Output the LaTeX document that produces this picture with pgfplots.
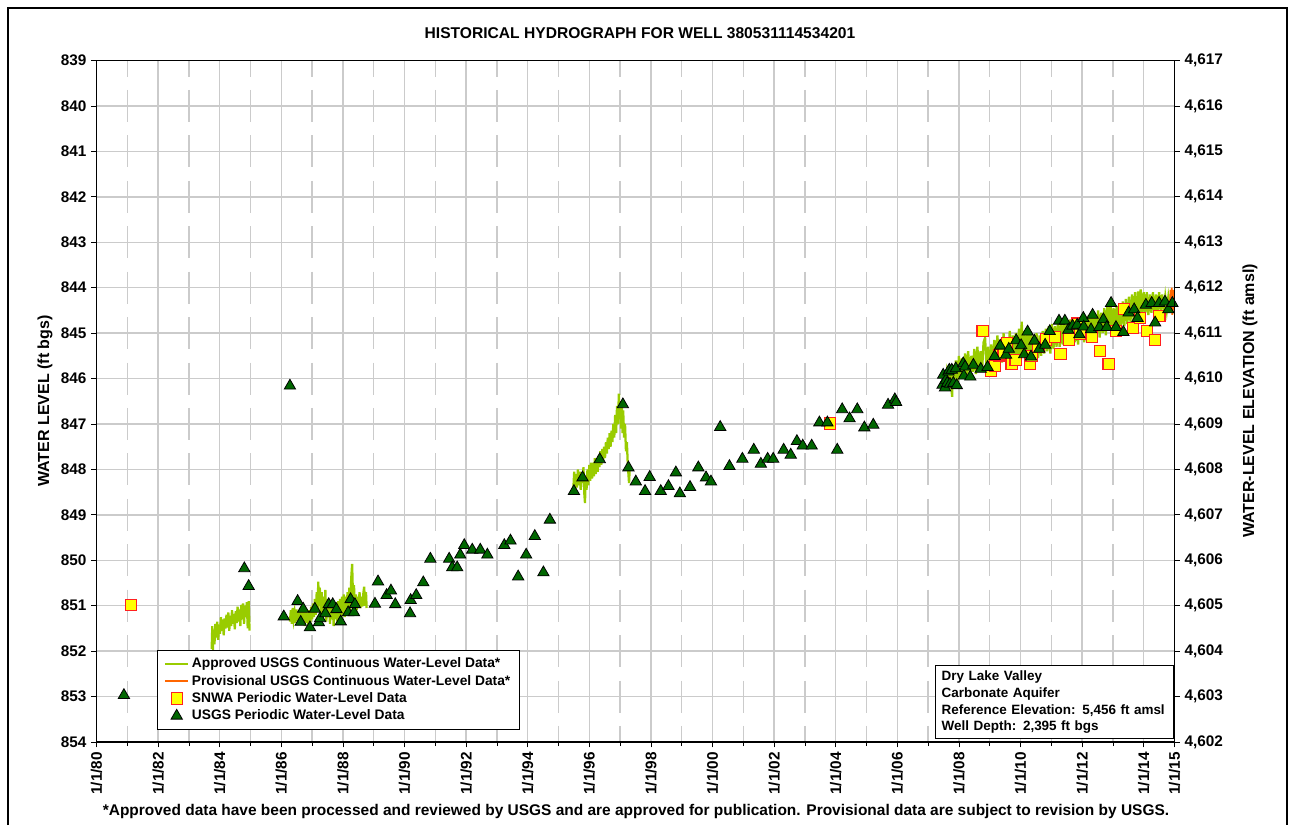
\documentclass[border=0pt]{standalone}
\usepackage{fontspec}
\setmainfont{Liberation Sans}
\usepackage{pgfplots}
\usepackage{pgfplotstable}
\pgfplotsset{compat=1.18}
\definecolor{appr}{HTML}{99CC00}
\definecolor{provc}{HTML}{FF6600}
\definecolor{tri}{HTML}{006600}
\definecolor{sqf}{HTML}{FFFF00}
\definecolor{sqe}{HTML}{FF2020}
\definecolor{grd}{HTML}{CBCBCB}
\begin{document}
\pgfplotstableread{
x y
1983.74 851.95
1983.76 851.45
1983.78 851.98
1983.80 851.55
1983.83 851.85
1983.86 851.40
1983.89 851.70
1983.92 851.35
1983.95 851.75
1983.98 851.42
1984.01 851.62
1984.04 851.25
1984.07 851.55
1984.10 851.30
1984.13 851.65
1984.16 851.28
1984.19 851.50
1984.22 851.20
1984.25 851.48
1984.28 851.15
1984.31 851.55
1984.34 851.22
1984.37 851.45
1984.40 851.10
1984.43 851.40
1984.46 851.18
1984.49 851.52
1984.52 851.12
1984.55 851.38
1984.58 851.02
1984.61 851.35
1984.64 851.08
1984.67 851.45
1984.70 850.98
1984.73 851.30
1984.76 850.95
1984.79 851.40
1984.82 851.00
1984.85 851.25
1984.88 850.92
1984.91 851.50
1984.94 850.90
1984.97 851.55
}\segA
\pgfplotstableread{
x y
1986.28 851.35
1986.31 851.10
1986.34 851.40
1986.37 851.05
1986.40 851.30
1986.43 851.15
1986.46 851.38
1986.49 851.08
1986.52 851.32
1986.55 851.12
1986.58 851.42
1986.61 851.05
1986.64 851.30
1986.67 851.00
1986.70 851.35
1986.73 851.10
1986.76 851.45
1986.79 851.05
1986.82 851.38
1986.85 851.15
1986.88 851.48
1986.91 851.10
1986.94 851.40
1986.97 851.02
1987.00 851.30
1987.03 850.95
1987.06 851.25
1987.09 850.85
1987.12 851.20
1987.15 850.70
1987.18 851.10
1987.20 850.47
1987.22 851.00
1987.25 850.60
1987.28 851.25
1987.31 850.70
1987.34 851.30
1987.37 850.80
1987.40 851.20
1987.43 850.65
1987.46 851.35
1987.49 850.85
1987.52 851.25
1987.55 850.90
1987.58 851.40
1987.61 850.95
1987.64 851.30
1987.67 851.00
1987.70 851.45
1987.73 850.95
1987.76 851.30
1987.79 851.05
1987.82 851.35
1987.85 850.90
1987.88 851.28
1987.91 850.85
1987.94 851.30
1987.97 850.80
1988.00 851.20
1988.03 850.75
1988.06 851.25
1988.09 850.80
1988.12 851.15
1988.15 850.70
1988.18 851.20
1988.21 850.60
1988.24 851.10
1988.27 850.40
1988.30 850.08
1988.33 850.90
1988.36 850.55
1988.39 851.05
1988.42 850.75
1988.45 851.10
1988.48 850.80
1988.51 851.00
1988.54 850.70
1988.57 851.05
1988.60 850.80
1988.63 851.02
1988.66 850.75
1988.69 850.58
1988.72 851.00
1988.75 850.70
1988.77 851.05
}\segB
\pgfplotstableread{
x y
1995.48 848.45
1995.51 848.05
1995.54 848.50
1995.57 848.10
1995.60 848.40
1995.63 848.00
1995.66 848.35
1995.69 848.05
1995.72 848.45
1995.75 848.10
1995.78 848.30
1995.81 847.95
1995.84 848.55
1995.86 848.74
1995.88 848.20
1995.91 848.45
1995.94 848.00
1995.97 848.35
1996.00 847.90
1996.03 848.25
1996.06 847.85
1996.09 848.20
1996.12 847.85
1996.15 848.15
1996.18 847.75
1996.21 848.10
1996.24 847.80
1996.27 848.05
1996.30 847.70
1996.33 847.95
1996.36 847.60
1996.39 847.90
1996.42 847.55
1996.45 847.80
1996.48 847.50
1996.51 847.75
1996.54 847.40
1996.57 847.65
1996.60 847.30
1996.63 847.55
1996.66 847.20
1996.69 847.50
1996.72 847.15
1996.75 847.40
1996.78 847.00
1996.81 847.30
1996.84 846.80
1996.87 847.20
1996.90 846.60
1996.93 847.00
1996.96 846.33
1996.98 846.90
1997.00 846.50
1997.03 847.10
1997.06 846.60
1997.08 847.20
1997.10 846.70
1997.13 847.30
1997.16 847.00
1997.19 847.60
1997.22 847.40
1997.25 847.90
1997.27 848.10
1997.29 848.30
1997.31 848.00
}\segC
\pgfplotstableread{
x y
2007.55 846.20
2007.60 845.90
2007.65 846.25
2007.70 845.80
2007.75 846.15
2007.78 846.40
2007.80 845.70
2007.85 846.10
2007.90 845.60
2007.95 846.05
2008.00 845.50
2008.05 846.00
2008.10 845.55
2008.15 845.95
2008.20 845.45
2008.25 845.90
2008.30 845.40
2008.35 845.95
2008.40 845.50
2008.45 845.85
2008.50 845.35
2008.55 845.90
2008.60 845.30
2008.65 845.80
2008.70 845.40
2008.75 845.85
2008.80 845.20
2008.85 845.10
2008.90 845.80
2008.95 845.30
2009.00 845.75
2009.05 845.25
2009.10 845.70
2009.15 845.15
2009.20 845.65
2009.25 845.05
2009.30 845.60
2009.35 845.15
2009.40 845.65
2009.45 845.00
2009.50 845.55
2009.55 845.10
2009.60 845.60
2009.65 844.95
2009.70 845.55
2009.75 845.05
2009.80 845.65
2009.85 845.00
2009.90 845.70
2009.95 844.90
2010.00 845.55
2010.04 844.75
2010.08 845.50
2010.12 844.95
2010.17 845.55
2010.22 845.00
2010.27 845.50
2010.32 844.95
2010.37 845.55
2010.42 845.05
2010.47 845.60
2010.52 845.00
2010.57 845.55
2010.62 845.05
2010.67 845.50
2010.72 844.95
2010.77 845.45
2010.82 844.90
2010.87 845.40
2010.92 844.85
2010.97 845.45
2011.02 844.80
2011.07 845.35
2011.12 844.85
2011.17 845.30
2011.22 844.75
2011.27 845.30
2011.32 844.80
2011.37 845.25
2011.42 844.70
2011.47 845.25
2011.52 844.75
2011.57 845.20
2011.62 844.70
2011.67 845.25
2011.72 844.65
2011.77 845.20
2011.82 844.70
2011.87 845.25
2011.92 844.65
2011.97 845.15
2012.02 844.60
2012.07 845.20
2012.12 844.65
2012.17 845.15
2012.22 844.60
2012.27 845.10
2012.32 844.55
2012.37 845.10
2012.42 844.60
2012.47 845.05
2012.52 844.50
2012.57 845.10
2012.62 844.55
2012.67 845.00
2012.72 844.45
2012.77 845.05
2012.82 844.40
2012.87 844.95
2012.92 844.30
2012.97 844.95
2013.02 844.45
2013.07 844.90
2013.12 844.40
2013.17 844.95
2013.22 844.35
2013.27 844.85
2013.32 844.30
2013.37 844.85
2013.42 844.25
2013.47 844.80
2013.52 844.20
2013.57 844.75
2013.62 844.15
2013.67 844.70
2013.72 844.10
2013.77 844.65
2013.82 844.08
2013.87 844.60
2013.90 844.04
2013.95 844.60
2014.00 844.10
2014.05 844.55
2014.10 844.10
2014.15 844.60
2014.20 844.15
2014.25 844.55
2014.30 844.10
2014.35 844.60
2014.40 844.15
2014.45 844.55
2014.50 844.10
2014.55 844.50
2014.60 844.15
2014.65 844.55
2014.70 844.20
2014.75 844.50
2014.80 844.20
2014.85 844.45
}\segD
\pgfplotstableread{
x y
2014.85 844.45
2014.87 844.05
2014.89 844.55
2014.91 844.00
2014.93 844.60
2014.95 844.05
2014.97 844.50
2014.99 844.10
2015.00 844.40
}\provdata
\pgfplotstableread{
x y
1981.12 850.99
2003.82 846.99
2008.77 844.96
2009.04 845.83
2009.17 845.72
2009.30 845.49
2009.45 845.45
2009.57 845.21
2009.71 845.67
2009.84 845.59
2010.31 845.67
2010.36 845.51
2010.58 845.30
2010.82 845.14
2011.11 845.08
2011.30 845.46
2011.58 845.14
2011.83 844.79
2011.93 845.02
2012.33 845.08
2012.59 845.39
2012.86 845.68
2013.10 844.95
2013.35 844.47
2013.65 844.89
2013.88 844.67
2014.11 844.95
2014.37 845.15
2014.51 844.62
}\snwa
\pgfplotstableread{
x y
1980.89 852.97
1984.80 850.18
1984.94 850.57
1986.08 851.24
1986.28 846.16
1986.53 850.90
1986.63 851.36
1986.71 851.07
1986.93 851.48
1987.09 851.07
1987.22 851.37
1987.26 851.28
1987.43 851.17
1987.54 850.97
1987.67 850.97
1987.79 851.08
1987.93 851.35
1988.17 851.15
1988.25 850.86
1988.36 851.15
1988.39 850.97
1989.04 850.96
1989.14 850.47
1989.42 850.77
1989.56 850.67
1989.70 850.97
1990.18 851.17
1990.20 850.88
1990.38 850.77
1990.61 850.49
1990.84 849.97
1991.45 849.97
1991.55 850.16
1991.71 850.16
1991.81 849.88
1991.94 849.67
1992.20 849.77
1992.46 849.77
1992.69 849.88
1993.24 849.67
1993.44 849.57
1993.69 850.36
1993.95 849.88
1994.23 849.47
1994.51 850.27
1994.72 849.11
1995.50 848.48
1995.78 848.18
1996.34 847.78
1997.09 846.57
1997.27 847.96
1997.51 848.27
1997.81 848.48
1997.96 848.17
1998.32 848.48
1998.57 848.37
1998.81 848.07
1998.94 848.53
1999.27 848.39
1999.54 847.96
1999.79 848.18
1999.95 848.27
2000.25 847.07
2000.55 847.93
2000.97 847.77
2001.34 847.57
2001.57 847.88
2001.79 847.77
2001.97 847.77
2002.31 847.57
2002.54 847.68
2002.74 847.38
2002.93 847.48
2003.22 847.48
2003.47 846.97
2003.73 846.97
2004.05 847.57
2004.21 846.68
2004.45 846.88
2004.70 846.68
2004.93 847.08
2005.22 847.02
2005.70 846.58
2005.92 846.46
2005.96 846.52
2007.47 846.14
2007.49 845.92
2007.55 846.20
2007.58 846.03
2007.62 846.10
2007.66 845.85
2007.69 845.81
2007.71 846.12
2007.77 845.81
2007.82 846.10
2007.90 845.78
2007.93 846.15
2008.14 845.67
2008.16 845.94
2008.20 845.74
2008.37 845.96
2008.47 845.70
2008.71 845.79
2008.93 845.75
2009.16 845.51
2009.34 845.28
2009.53 845.48
2009.62 845.35
2009.86 845.16
2010.02 845.27
2010.12 845.47
2010.23 844.97
2010.34 845.52
2010.45 845.17
2010.61 845.35
2010.80 845.26
2010.95 844.96
2011.25 844.73
2011.44 844.73
2011.55 844.93
2011.69 844.84
2011.84 844.82
2011.91 845.03
2012.04 844.67
2012.05 844.86
2012.29 844.92
2012.34 844.60
2012.56 844.87
2012.69 844.70
2012.80 844.87
2012.94 844.34
2013.10 844.87
2013.34 844.98
2013.51 844.55
2013.69 844.48
2013.80 844.67
2014.07 844.38
2014.26 844.34
2014.37 844.77
2014.50 844.34
2014.69 844.31
2014.80 844.48
2014.93 844.34
}\usgs
\begin{tikzpicture}
\useasboundingbox (0,0) rectangle (971.25pt,618.75pt);
\draw[line width=1.5pt] (6pt,0) -- (6pt,612.75pt) -- (965.25pt,612.75pt) -- (965.25pt,0);
\node[font=\bfseries\fontsize{11.7}{14}\selectfont] at (480pt,594pt) {HISTORICAL HYDROGRAPH FOR WELL 380531114534201};
\node[font=\bfseries\fontsize{12}{14}\selectfont, rotate=90] at (33.75pt,318pt) {WATER LEVEL (ft bgs)};
\node[font=\bfseries\fontsize{12}{14}\selectfont, rotate=90] at (937.5pt,318pt) {WATER-LEVEL ELEVATION (ft amsl)};
\node[font=\bfseries\fontsize{11.6}{14}\selectfont] at (477pt,10.5pt) {*Approved data have been processed and reviewed by USGS and are approved for publication. Provisional data are subject to revision by USGS.};
\begin{axis}[
  at={(72.375pt,62.25pt)}, anchor=south west,
  scale only axis, width=808.5pt, height=511.1pt,
  xmin=1980, xmax=2015, ymin=839, ymax=854, y dir=reverse,
  xtick={1980,1982,1984,1986,1988,1990,1992,1994,1996,1998,2000,2002,2004,2006,2008,2010,2012,2014,2015},
  xticklabels={1/1/80,1/1/82,1/1/84,1/1/86,1/1/88,1/1/90,1/1/92,1/1/94,1/1/96,1/1/98,1/1/00,1/1/02,1/1/04,1/1/06,1/1/08,1/1/10,1/1/12,1/1/14,1/1/15},
  minor xtick={1981,1983,1985,1987,1989,1991,1993,1995,1997,1999,2001,2003,2005,2007,2009,2011,2013},
  ytick={839,840,...,854},
  xtick pos=bottom, ytick pos=left,
  tick align=outside, major tick length=4pt, minor tick length=3pt,
  tick style={black, line width=0.6pt},
  grid=both,
  major grid style={grd, line width=1.1pt},
  minor grid style={grd, line width=1.1pt, dash pattern=on 24pt off 10.07pt, dash phase=12pt},
  axis line style={line width=1.2pt},
  /pgf/number format/assume math mode=true,
  x tick label style={rotate=90, anchor=east, font=\bfseries\fontsize{11.5}{13}\selectfont},
  y tick label style={font=\bfseries\fontsize{11.5}{13}\selectfont},
  legend style={at={(axis description cs:0.0561,0.135)}, anchor=north west,
    draw=black, line width=0.8pt, fill=white,
    font=\bfseries\fontsize{10.35}{12.6}\selectfont, row sep=0pt,
    inner xsep=5pt, inner ysep=3.5pt},
  legend cell align=left,
]
\addplot[appr, line width=1.7pt] table {\segA};
\addlegendentry{Approved USGS Continuous Water-Level Data*}
\addplot[appr, line width=1.7pt, forget plot] table {\segB};
\addplot[appr, line width=1.7pt, forget plot] table {\segC};
\addplot[appr, line width=1.7pt, forget plot] table {\segD};
\addplot[provc, line width=1.3pt] table {\provdata};
\addlegendentry{Provisional USGS Continuous Water-Level Data*}
\addplot[only marks, mark=square*, mark size=4.2pt, mark options={fill=sqf, draw=sqe, line width=0.8pt}] table {\snwa};
\addlegendentry{SNWA Periodic Water-Level Data}
\addplot[only marks, mark=triangle*, mark size=4.9pt, mark options={fill=tri, draw=black, line width=0.6pt}] table {\usgs};
\addlegendentry{USGS Periodic Water-Level Data}
\node[draw=black, line width=0.8pt, fill=white, anchor=south west, align=left,
  font=\bfseries\fontsize{10.1}{12.4}\selectfont, inner xsep=4.5pt, inner ysep=4pt,
  text width=169pt] at (axis description cs:0.778,0.004)
  {Dry Lake Valley\\Carbonate Aquifer\\Reference Elevation: 5,456 ft amsl\\Well Depth: 2,395 ft bgs};
\end{axis}
\begin{axis}[
  at={(72.375pt,62.25pt)}, anchor=south west,
  scale only axis, width=808.5pt, height=511.1pt,
  xmin=1980, xmax=2015, ymin=4602, ymax=4617,
  axis x line=none, axis y line*=right,
  ytick={4602,4603,...,4617},
  tick align=outside, major tick length=4pt,
  tick style={black, line width=0.6pt},
  axis line style={line width=1.2pt},
  /pgf/number format/assume math mode=true,
  /pgf/number format/1000 sep={,},
  y tick label style={font=\bfseries\fontsize{11.5}{13}\selectfont},
]
\end{axis}
\end{tikzpicture}
\end{document}
